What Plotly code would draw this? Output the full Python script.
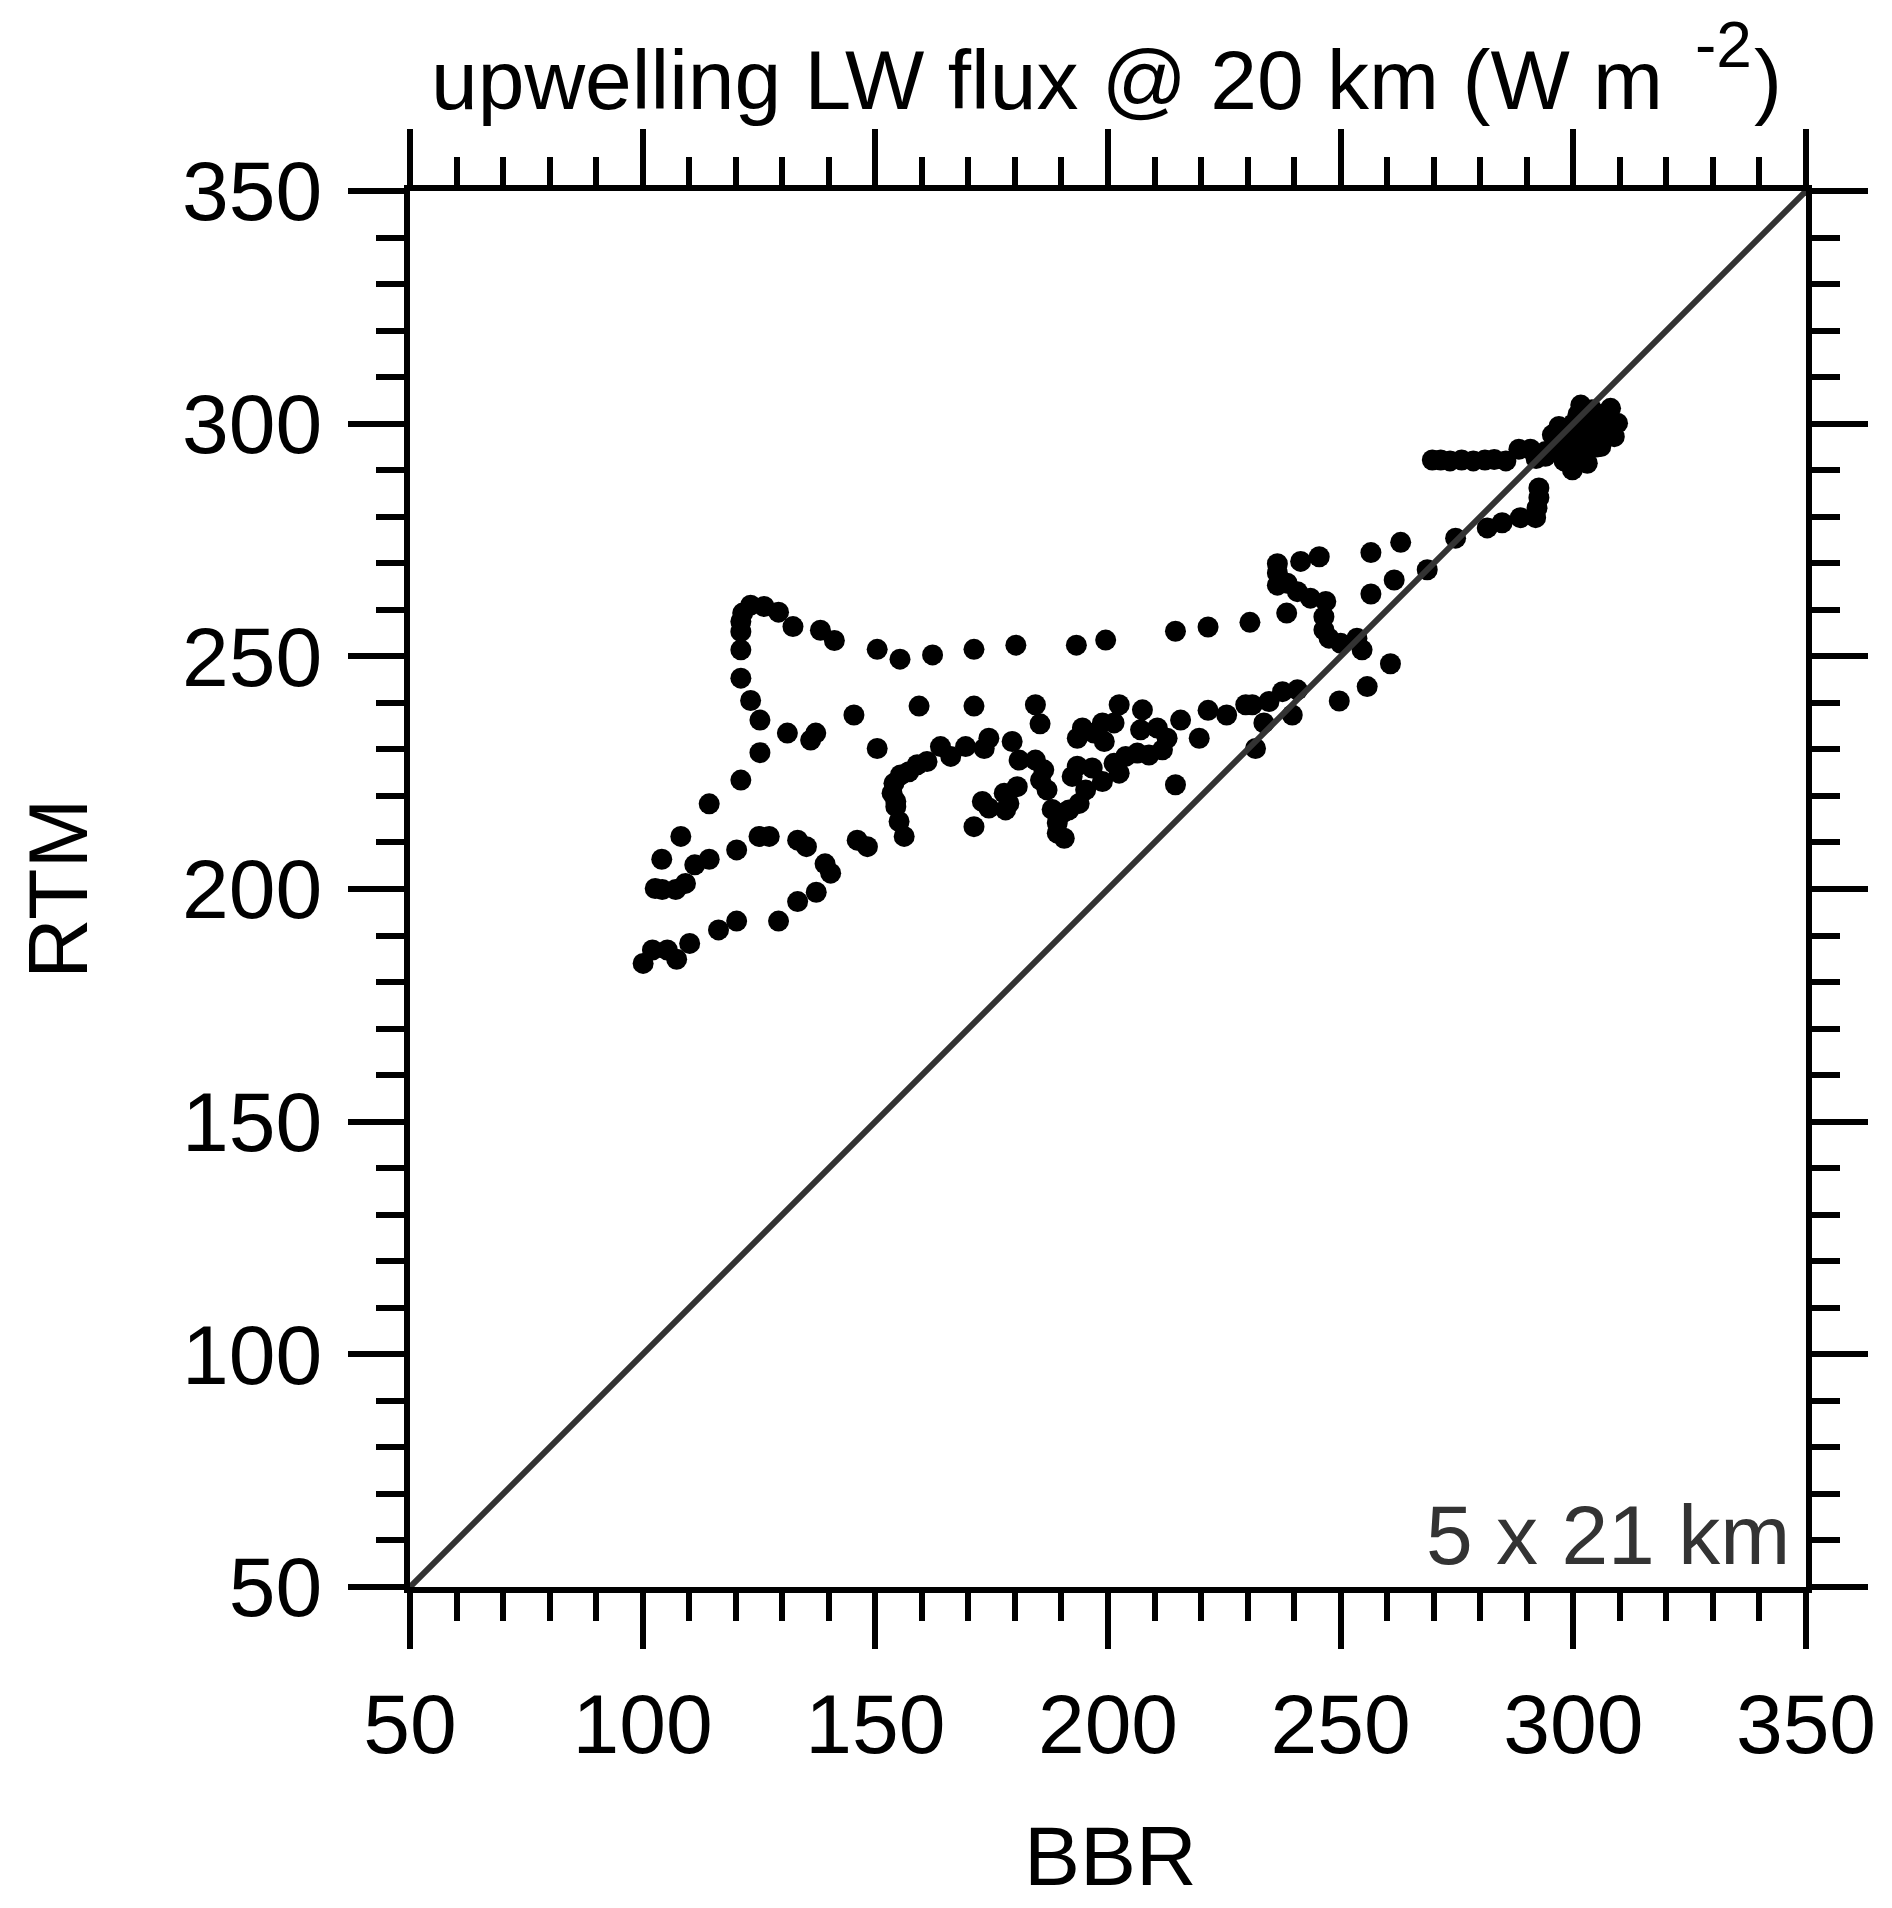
import plotly.graph_objects as go

# BBR (x) and RTM (y) upwelling LW flux values
bbr = [
    100.1, 102.1, 105.3, 107.3, 110.1, 116.3, 120.2, 129.2, 133.3, 137.3, 140.4, 139.2,
    135.2, 133.3, 127.2, 125.0, 120.2, 114.3, 111.2, 109.2, 107.1, 104.2, 102.7, 104.1,
    108.2, 114.3, 121.1, 125.2, 125.2, 123.2, 121.1, 121.1, 121.1, 121.1, 121.5, 123.2,
    126.1, 129.2, 132.3, 138.2, 141.2, 150.4, 155.3, 162.3, 171.2, 180.2, 193.2, 199.5,
    214.5, 221.5, 230.5, 238.4,
    236.4, 241.4, 245.4, 256.5, 262.9, 256.5, 261.5,
    236.4, 236.4, 238.5, 240.7, 243.5, 246.8, 246.4, 246.4, 247.5, 250.0, 253.5, 254.6,
    260.7, 255.7, 249.7,
    239.6, 231.7, 233.5, 231.0, 229.6, 234.6, 237.5, 240.7, 225.5, 221.5, 219.6, 215.6, 214.5,
    207.4, 207.0, 210.6, 212.7, 211.7, 208.8, 206.3, 203.8, 201.3, 202.4, 202.4, 201.3,
    198.8, 197.0, 199.2, 194.5, 193.4, 196.6, 198.8, 195.2, 193.4, 192.3, 193.8, 191.6,
    190.2, 189.1, 189.1, 190.6, 188.0, 186.9, 185.5, 186.2, 184.4, 180.9, 179.4, 184.4,
    185.4, 180.5, 178.7, 178.0,
    177.7, 174.4, 173.0, 171.2, 174.4, 173.4, 169.4, 166.2, 164.0, 161.1, 159.0, 157.2,
    155.4, 154.0, 153.6, 154.4, 154.4, 155.1, 156.2, 150.4, 145.4, 159.4, 171.2, 146.1,
    148.3, 137.2, 136.1, 131.1,
    268.6, 274.7, 281.5, 284.7, 288.6, 291.9, 292.2, 292.6, 292.6,
    269.7, 271.5, 273.5, 276.0, 278.5, 281.0, 283.0, 285.5, 288.3, 290.8, 292.0, 294.0,
    292.0, 294.0, 295.5, 296.9, 298.0, 299.0, 300.0, 301.6, 300.0, 299.8, 301.0, 303.0,
    302.0, 303.0, 304.0, 304.0, 305.0, 305.9, 306.0, 306.5, 307.0, 308.0, 308.8, 309.5,
    298.0, 297.0, 302.0, 303.0, 305.0, 307.0, 301.0, 300.0,
]
rtm = [
    184.0, 186.9, 186.9, 184.9, 188.3, 191.2, 193.1, 193.1, 197.3, 199.3, 203.4, 205.4,
    209.1, 210.5, 211.3, 211.3, 208.4, 206.4, 205.2, 201.2, 199.9, 199.9, 200.1, 206.4,
    211.3, 218.3, 223.4, 229.3, 236.3, 240.5, 245.3, 251.4, 255.3, 257.5, 259.3, 261.0,
    260.7, 259.5, 256.4, 255.6, 253.4, 251.5, 249.4, 250.3, 251.5, 252.4, 252.4, 253.5,
    255.4, 256.3, 257.3, 259.3,
    269.9, 270.4, 271.4, 272.3, 274.5, 263.4, 266.4,
    267.9, 265.3, 265.7, 263.9, 262.5, 261.8, 258.5, 255.7, 253.9, 252.8, 253.9, 251.4,
    248.4, 243.5, 240.4,
    237.4, 230.2, 235.7, 239.6, 239.6, 240.3, 242.4, 242.8, 237.4, 238.4, 232.4, 236.3, 222.4,
    238.5, 234.2, 234.6, 232.4, 229.9, 228.8, 229.2, 228.5, 227.0, 224.9, 239.6, 235.7,
    235.7, 233.5, 231.7, 234.6, 232.4, 226.0, 223.1, 221.3, 226.4, 224.2, 218.4, 217.0,
    216.3, 214.2, 212.0, 210.9, 217.1, 221.3, 223.4, 225.6, 227.7, 227.7, 231.7, 239.6,
    235.5, 222.0, 218.4, 217.0,
    220.6, 217.4, 218.8, 213.4, 232.4, 230.2, 230.6, 228.5, 230.6, 227.4, 226.7, 225.2,
    224.5, 222.7, 220.6, 218.8, 217.7, 214.5, 211.3, 230.2, 237.4, 239.3, 239.3, 210.5,
    209.1, 233.5, 232.0, 233.5,
    268.6, 275.4, 277.6, 278.7, 279.8, 279.8, 281.9, 284.1, 286.2,
    292.2, 292.2, 292.0, 292.2, 292.0, 292.2, 292.3, 292.0, 294.5, 294.5, 292.5, 293.0,
    293.0, 294.0, 297.6, 299.4, 296.0, 298.0, 300.0, 304.0, 295.0, 290.1, 293.0, 291.5,
    297.0, 301.0, 298.0, 303.0, 295.0, 295.1, 300.0, 302.0, 298.0, 303.3, 297.2, 300.1,
    292.0, 294.0, 295.0, 299.0, 301.0, 300.0, 302.0, 297.0,
]

# 1:1 reference line
one_to_one = [50, 350]
tick_vals = [50, 100, 150, 200, 250, 300, 350]
tick_text = ["50", "100", "150", "200", "250", "300", "350"]

FONT = "Liberation Sans, Arial, Helvetica, sans-serif"
FS = 84

fig = go.Figure()
fig.add_trace(go.Scatter(
    x=bbr, y=rtm, mode="markers",
    marker=dict(size=21, color="black", line=dict(width=0)),
    showlegend=False, hoverinfo="skip",
))
fig.add_trace(go.Scatter(
    x=one_to_one, y=one_to_one, mode="lines",
    line=dict(color="#333333", width=6),
    showlegend=False, hoverinfo="skip",
))

axis_common = dict(
    range=[50, 350], tickvals=tick_vals, ticktext=tick_text,
    ticks="outside", ticklen=56, tickwidth=6, tickcolor="black",
    showline=True, linewidth=6, linecolor="black", mirror="allticks",
    showgrid=False, zeroline=False,
    tickfont=dict(family=FONT, size=FS, color="black"),
    minor=dict(dtick=10, tick0=50, ticks="outside", ticklen=28, tickwidth=6,
               tickcolor="black", showgrid=False),
)

ann_font = dict(family=FONT, size=FS, color="black")

fig.update_layout(
    width=1884, height=1900,
    paper_bgcolor="white", plot_bgcolor="white",
    margin=dict(l=402, r=86, t=183, b=321),
    font=dict(family=FONT, size=FS, color="black"),
    xaxis=dict(**axis_common, ticklabelstandoff=3),
    yaxis=dict(**axis_common, ticklabelstandoff=9),
    annotations=[
        dict(text="upwelling LW flux @ 20 km (W m", xref="paper", yref="paper",
             x=0.0136, y=1.0444, xanchor="left", yanchor="bottom", showarrow=False,
             font=ann_font),
        dict(text="-2", xref="paper", yref="paper",
             x=0.9191, y=1.0774, xanchor="left", yanchor="bottom", showarrow=False,
             font=dict(family=FONT, size=64, color="black")),
        dict(text=")", xref="paper", yref="paper",
             x=0.9613, y=1.0444, xanchor="left", yanchor="bottom", showarrow=False,
             font=ann_font),
        dict(text="BBR", xref="paper", yref="paper", x=0.502, y=-0.1927,
             xanchor="center", yanchor="middle", showarrow=False, font=ann_font),
        dict(text="RTM", xref="paper", yref="paper", x=-0.2521, y=0.5,
             xanchor="center", yanchor="middle", textangle=-90, showarrow=False,
             borderpad=0, font=ann_font),
        dict(text="5 x 21 km", xref="paper", yref="paper", x=0.9899, y=0.002,
             xanchor="right", yanchor="bottom", showarrow=False,
             font=dict(family=FONT, size=FS, color="#333333")),
    ],
)

fig.write_html("out.html")
